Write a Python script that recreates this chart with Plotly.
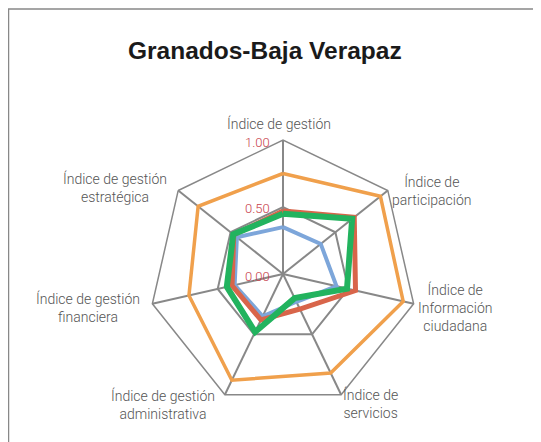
import plotly.graph_objects as go

W, H = 541, 442
OFF = 8  # margen del body de la página

ejes = [
    "Índice de gestión",
    "Índice de<br>participación",
    "Índice de<br>Información<br>ciudadana",
    "Índice de<br>servicios",
    "Índice de gestión<br>administrativa",
    "Índice de gestión<br>financiera",
    "Índice de gestión<br>estratégica",
]

serie_azul = [0.35, 0.36, 0.41, 0.23, 0.35, 0.37, 0.44]
serie_roja = [0.47, 0.68, 0.555, 0.29, 0.38, 0.39, 0.47]
serie_naranja = [0.75, 0.93, 0.92, 0.82, 0.88, 0.72, 0.81]
serie_verde = [0.45, 0.66, 0.49, 0.20, 0.48, 0.43, 0.475]

radial_ticks = [0, 0.5, 1.0]
radial_text = ["0.00", "0.50", "1.00"]

# posición de las etiquetas de categoría (px en la página)
etiquetas_pos = [(279, 124), (432, 190), (455, 307), (370, 403),
                 (163, 404), (88, 307), (115, 187)]


def cerrar(vals):
    return vals + vals[:1]


def px_x(p):
    return (p - OFF) / W


def px_y(p):
    return 1 - (p - OFF) / H


# centro (283, 274) px, radio 134 px
cx, cy, R = 283, 274, 134

fig = go.Figure()
for vals, color, width in [
    (serie_azul, "#7DA6DA", 4),
    (serie_roja, "#D8654A", 5),
    (serie_naranja, "#F0A04C", 3.5),
    (serie_verde, "#22B35E", 6),
]:
    fig.add_trace(go.Scatterpolar(
        r=cerrar(vals), theta=cerrar(ejes), mode="lines",
        line=dict(color=color, width=width), hoverinfo="skip",
    ))

anotaciones = [dict(
    text="<b>Granados-Baja Verapaz</b>", showarrow=False,
    xref="paper", yref="paper", x=px_x(265), y=px_y(51),
    xanchor="center", yanchor="middle",
    font=dict(family="Liberation Sans, Arial", size=24.5, color="#1a1a1a"),
)]
for texto, (lx, ly) in zip(ejes, etiquetas_pos):
    anotaciones.append(dict(
        text=texto, showarrow=False, align="center",
        xref="paper", yref="paper", x=px_x(lx), y=px_y(ly),
        xanchor="center", yanchor="middle",
        font=dict(family="Roboto", size=14, color="#555555", weight=300),
    ))
# etiquetas del eje radial, a la izquierda del eje superior
for t, texto in zip(radial_ticks, radial_text):
    anotaciones.append(dict(
        text=texto, showarrow=False,
        xref="paper", yref="paper", x=px_x(cx - 11), y=px_y(cy - t * R + 2),
        xanchor="right", yanchor="middle",
        font=dict(family="Roboto", size=13, color="#C8414B", weight=300),
    ))

fig.update_layout(
    width=W, height=H,
    margin=dict(l=0, r=0, t=0, b=0),
    paper_bgcolor="white",
    showlegend=False,
    annotations=anotaciones,
    polar=dict(
        domain=dict(x=[px_x(cx - R), px_x(cx + R)],
                    y=[px_y(cy + R), px_y(cy - R)]),
        bgcolor="white",
        gridshape="linear",
        angularaxis=dict(
            rotation=90, direction="clockwise",
            showline=True, linecolor="#888888", linewidth=1.5,
            gridcolor="#888888", gridwidth=1.5,
            ticks="", showticklabels=False,
        ),
        radialaxis=dict(
            range=[0, 1], tickvals=radial_ticks,
            angle=90, showticklabels=False,
            showline=False, ticks="", gridcolor="#888888", gridwidth=1.5,
        ),
    ),
    shapes=[dict(type="rect", xref="paper", yref="paper",
                 x0=0.5 / W, y0=-0.1, x1=1.1, y1=px_y(9),
                 line=dict(color="#888888", width=1.5))],
)

fig.write_html("out.html")
